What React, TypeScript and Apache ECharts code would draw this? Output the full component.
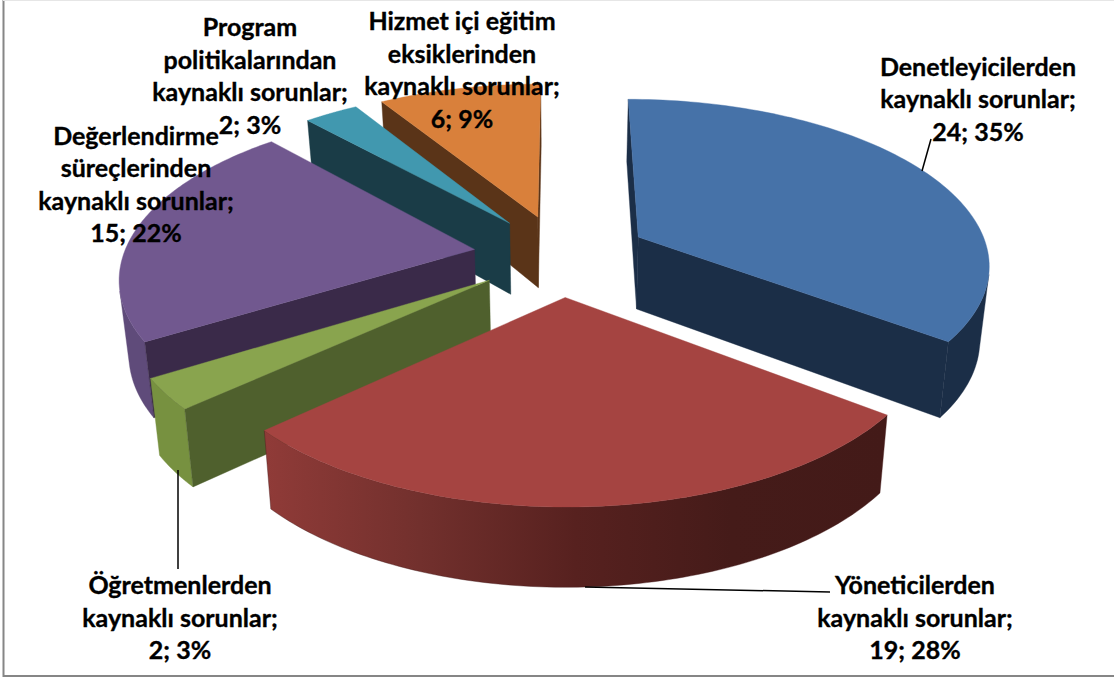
import React, { useEffect, useRef } from "react";
import * as echarts from "echarts";

const categories = [
  "Denetleyicilerden\nkaynaklı sorunlar",
  "Yöneticilerden\nkaynaklı sorunlar",
  "Öğretmenlerden\nkaynaklı sorunlar",
  "Değerlendirme\nsüreçlerinden\nkaynaklı sorunlar",
  "Program\npolitikalarından\nkaynaklı sorunlar",
  "Hizmet içi eğitim\neksiklerinden\nkaynaklı sorunlar",
];
const values = [24, 19, 2, 15, 2, 6];
const percents = [35, 28, 3, 22, 3, 9];
const topColors = ["#4672A8", "#A54441", "#89A44E", "#71588F", "#4198AF", "#D9803B"];
const faceColors = ["#1B2E47", "#4F602D", "#4F602D", "#3A2A49", "#1A3C47", "#5A3418"];
const drawOrder = [5, 4, 0, 3, 2, 1];
const labelCenters: [number, number][] = [
  [978, 98],
  [915, 616.5],
  [180, 616.5],
  [136, 183.5],
  [250, 75],
  [462, 69],
];

const CX = 561, CY = 255, AX = 351, AY = 163.6, P = 0.151, EXPLODE = 0.25, DEPTH = 73;
const total = values.reduce((a, b) => a + b, 0);

type Pt = [number, number];

function project(x: number, z: number): Pt {
  const s = 1 / (1 - P * z);
  return [CX + AX * x * s, CY + AY * z * s];
}
function drop(p: Pt): Pt {
  const s = (p[1] - CY) / (AY / P + (p[1] - CY)) + 1;
  const h = DEPTH * Math.pow(s, s < 1 ? 0.9 : 0.55);
  return [CX + (p[0] - CX) * 0.978, p[1] + h];
}
function area(pts: Pt[]) {
  let t = 0;
  for (let i = 0; i < pts.length; i++) {
    const q = pts[(i + 1) % pts.length];
    t += pts[i][0] * q[1] - q[0] * pts[i][1];
  }
  return t;
}

function renderSlice(params: any, api: any) {
  const idx = api.value(1);
  let before = 0;
  for (let i = 0; i < idx; i++) before += values[i];
  const a0 = (before / total) * 2 * Math.PI;
  const a1 = ((before + api.value(0)) / total) * 2 * Math.PI;
  const mid = (a0 + a1) / 2;
  const ox = Math.sin(mid) * EXPLODE, oz = -Math.cos(mid) * EXPLODE;
  const apex = project(ox, oz);
  const arc: Pt[] = [];
  const n = 96;
  for (let i = 0; i <= n; i++) {
    const a = a0 + ((a1 - a0) * i) / n;
    arc.push(project(ox + Math.sin(a), oz - Math.cos(a)));
  }
  const poly = (pts: Pt[], fill: any) => ({
    type: "polygon",
    shape: { points: pts },
    style: { fill, stroke: typeof fill === "string" ? fill : "#45191a", lineWidth: 0.4 },
  });
  let wallFill: any = faceColors[idx];
  if (idx === 1) {
    wallFill = new echarts.graphic.LinearGradient(0, 0, 1, 0, [
      { offset: 0, color: "#903B38" },
      { offset: 0.25, color: "#72302D" },
      { offset: 0.5, color: "#57211F" },
      { offset: 0.75, color: "#451B19" },
      { offset: 1, color: "#431A18" },
    ]);
  } else if (idx === 2) wallFill = "#779140";
  else if (idx === 3) wallFill = "#5F4B7A";
  // only the part of the curved wall that faces the viewer
  const visible: Pt[] = [];
  for (let i = 0; i < n; i++) {
    const quad: Pt[] = [arc[i], arc[i + 1], drop(arc[i + 1]), drop(arc[i])];
    if (area(quad) < 0) {
      if (!visible.length) visible.push(arc[i]);
      visible.push(arc[i + 1]);
    }
  }
  const children: any[] = [];
  if (visible.length) children.push(poly([...visible, ...visible.slice().reverse().map(drop)], wallFill));
  const first = arc[0], last = arc[n];
  const startWall: Pt[] = [apex, first, drop(first), drop(apex)];
  const endWall: Pt[] = [apex, drop(apex), drop(last), last];
  if (area(startWall) < 0) children.push(poly(startWall, faceColors[idx]));
  if (area(endWall) < 0) children.push(poly(endWall, faceColors[idx]));
  children.push(poly([apex, ...arc], topColors[idx]));
  return { type: "group", children };
}

export default function App() {
  const ref = useRef<HTMLDivElement>(null);
  useEffect(() => {
    const chart = echarts.init(ref.current!, undefined, { renderer: "svg" });
    const leaders: [number, number, number, number][] = [
      [931, 139, 922, 171],
      [585, 587, 830, 592],
      [178, 470, 178, 569],
    ];
    const frame: [number, number, number, number, string][] = [
      [3.5, 0, 3.5, 677, "#868686"],
      [3, 676, 1114, 676, "#868686"],
      [3, 0.5, 1114, 0.5, "#E6E6E6"],
    ];
    chart.setOption({
      animation: false,
      backgroundColor: "#FFFFFF",
      graphic: [
        ...frame.map((l) => ({
          type: "line",
          z: 1,
          shape: { x1: l[0], y1: l[1], x2: l[2], y2: l[3] },
          style: { stroke: l[4], lineWidth: l[4] === "#868686" ? 2 : 1 },
        })),
        ...leaders.map((l) => ({
          type: "line",
          z: 8,
          shape: { x1: l[0], y1: l[1], x2: l[2], y2: l[3] },
          style: { stroke: "#000000", lineWidth: 1.5 },
        })),
        ...categories.map((c, i) => ({
          type: "text",
          z: 10,
          x: labelCenters[i][0],
          y: labelCenters[i][1],
          style: {
            text: `${c};\n${values[i]}; ${percents[i]}%`,
            font: "bold 25px Lato",
            lineHeight: 32.5,
            fill: "#000000",
            stroke: "#000000",
            lineWidth: 0.35,
            align: "center",
            verticalAlign: "middle",
          },
        })),
      ],
      series: [
        {
          type: "custom",
          coordinateSystem: "none",
          renderItem: renderSlice,
          data: drawOrder.map((i) => [values[i], i]),
          silent: true,
          z: 2,
        },
      ],
    });
    return () => chart.dispose();
  }, []);
  return (
    <div
      ref={ref}
      style={{ position: "absolute", left: 0, top: 0, width: 1114, height: 679 }}
    />
  );
}
